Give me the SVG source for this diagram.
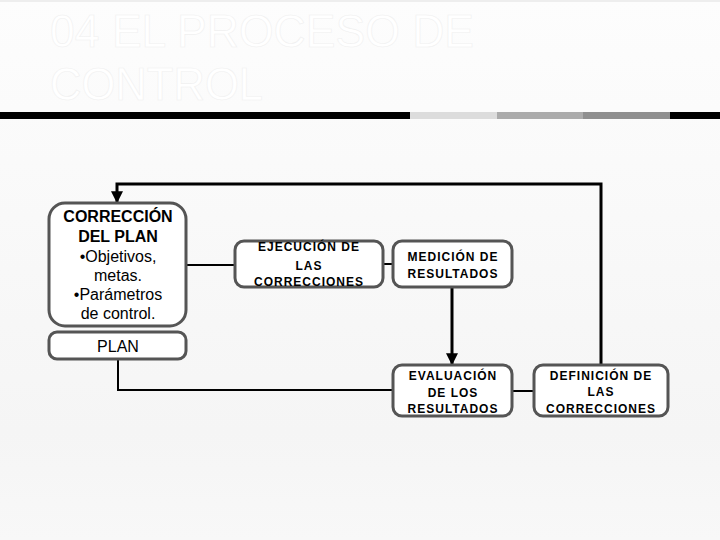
<svg xmlns="http://www.w3.org/2000/svg" width="720" height="540" viewBox="0 0 720 540">
<defs>
<linearGradient id="bg" x1="0" y1="0" x2="0" y2="1">
<stop offset="0" stop-color="#fdfdfd"/>
<stop offset="0.8" stop-color="#f5f5f5"/>
<stop offset="1" stop-color="#f8f8f8"/>
</linearGradient>
<marker id="arr" viewBox="0 0 10 10" refX="9" refY="5" markerWidth="4" markerHeight="4" orient="auto" markerUnits="strokeWidth">
<path d="M0,0 L10,5 L0,10 z" fill="#000"/>
</marker>
<style>
.box{fill:#fff;stroke:#555;stroke-width:3}
.t{font-family:"Liberation Sans",Arial,sans-serif;fill:#000;text-anchor:middle}
.b16{font-size:16px;font-weight:bold}
.r16{font-size:16px}
.b12{font-size:12px;font-weight:bold;letter-spacing:1px}
.thin{fill:none;stroke:#000;stroke-width:2}
.thick{fill:none;stroke:#000;stroke-width:3}
.title{font-family:"Liberation Sans",Arial,sans-serif;font-size:47px;fill:#fff;stroke:#f0f0f0;stroke-width:0.6}
</style>
</defs>
<rect width="720" height="540" fill="url(#bg)"/>
<rect x="0" y="0" width="720" height="2" fill="#eee"/>
<g id="title">
<text class="title" x="50" y="47" textLength="424" lengthAdjust="spacingAndGlyphs">04 EL PROCESO DE</text>
<text class="title" x="50" y="100" textLength="213" lengthAdjust="spacingAndGlyphs">CONTROL</text>
</g>
<g id="bar">
<rect x="0" y="112" width="410" height="7" fill="#000"/>
<rect x="410" y="112" width="87" height="7" fill="#dcdcdc"/>
<rect x="497" y="112" width="86" height="7" fill="#ababab"/>
<rect x="583" y="112" width="87" height="7" fill="#8f8f8f"/>
<rect x="670" y="112" width="50" height="7" fill="#000"/>
</g>
<g id="connectors">
<line class="thin" x1="187" y1="265" x2="235" y2="265"/>
<line class="thin" x1="383" y1="264" x2="393" y2="264"/>
<line class="thin" x1="512" y1="391" x2="534" y2="391"/>
<polyline class="thin" points="118,359 118,390 393,390"/>
<line class="thick" x1="452" y1="287" x2="452" y2="364" marker-end="url(#arr)"/>
<polyline class="thick" points="601,364 601,184 117,184 117,202" marker-end="url(#arr)"/>
</g>
<g id="correccion">
<rect class="box" x="49" y="203" width="137" height="123" rx="16"/>
<text class="t b16" x="118" y="222">CORRECCIÓN</text>
<text class="t b16" x="118" y="242">DEL PLAN</text>
<text class="t r16" x="118" y="262">•Objetivos,</text>
<text class="t r16" x="118" y="281">metas.</text>
<text class="t r16" x="118" y="300">•Parámetros</text>
<text class="t r16" x="118" y="319">de control.</text>
</g>
<g id="plan">
<rect class="box" x="49" y="332" width="137" height="27" rx="8"/>
<text class="t r16" x="118" y="352">PLAN</text>
</g>
<g id="ejecucion">
<rect class="box" x="235" y="241" width="148" height="46" rx="9"/>
<text class="t b12" x="309" y="251">EJECUCIÓN DE</text>
<text class="t b12" x="309" y="270">LAS</text>
<text class="t b12" x="309" y="286">CORRECCIONES</text>
</g>
<g id="medicion">
<rect class="box" x="393" y="241" width="119" height="46" rx="9"/>
<text class="t b12" x="453" y="261">MEDICIÓN DE</text>
<text class="t b12" x="453" y="278">RESULTADOS</text>
</g>
<g id="evaluacion">
<rect class="box" x="393" y="365" width="119" height="51" rx="9"/>
<text class="t b12" x="453" y="380">EVALUACIÓN</text>
<text class="t b12" x="453" y="397">DE LOS</text>
<text class="t b12" x="453" y="413">RESULTADOS</text>
</g>
<g id="definicion">
<rect class="box" x="534" y="365" width="134" height="51" rx="9"/>
<text class="t b12" x="601" y="380">DEFINICIÓN DE</text>
<text class="t b12" x="601" y="396">LAS</text>
<text class="t b12" x="601" y="413">CORRECCIONES</text>
</g>
</svg>
